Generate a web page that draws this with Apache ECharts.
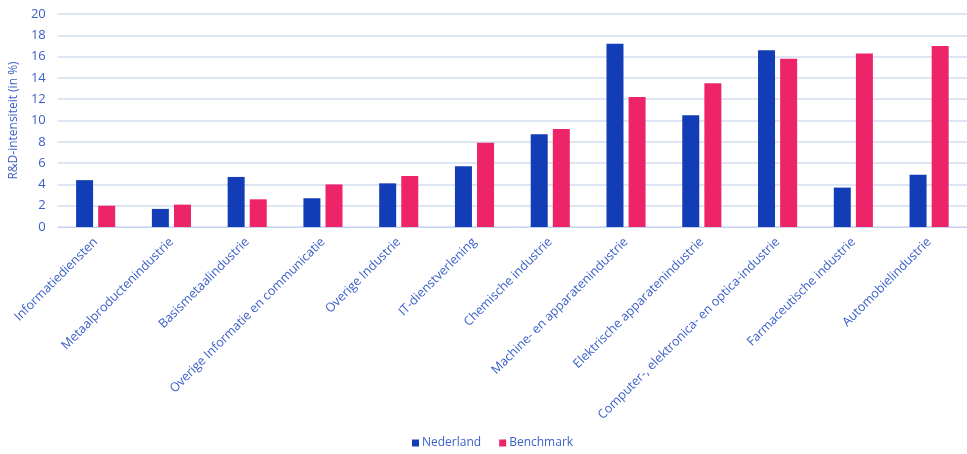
<!DOCTYPE html>
<html>
<head>
<meta charset="utf-8">
<script src="https://cdn.jsdelivr.net/npm/echarts@6/dist/echarts.min.js"></script>
<style>html,body{margin:0;padding:0;background:#fff}#c{width:967px;height:454px}</style>
</head>
<body>
<div id="c"></div>
<script>
const categories = [
  "Informatiediensten",
  "Metaalproductenindustrie",
  "Basismetaalindustrie",
  "Overige Informatie en communicatie",
  "Overige Industrie",
  "IT-dienstverlening",
  "Chemische industrie",
  "Machine- en apparatenindustrie",
  "Elektrische apparatenindustrie",
  "Computer-, elektronica- en optica-industrie",
  "Farmaceutische industrie",
  "Automobielindustrie"
];
const nederland = [4.4, 1.7, 4.7, 2.7, 4.1, 5.7, 8.7, 17.2, 10.5, 16.6, 3.7, 4.9];
const benchmark = [2.0, 2.1, 2.6, 4.0, 4.8, 7.9, 9.2, 12.2, 13.5, 15.8, 16.3, 17.0];
const yTicks = [0, 2, 4, 6, 8, 10, 12, 14, 16, 18, 20];

const textColor = '#3b5fc8';
const font = 'Open Sans';
const chart = echarts.init(document.getElementById('c'));
chart.setOption({
  animation: false,
  textStyle: { fontFamily: font },
  grid: { left: 54, right: -6, top: 14, bottom: 227 },
  legend: {
    bottom: 0, left: 407,
    itemWidth: 7, itemHeight: 7, itemGap: 18,
    icon: 'rect',
    textStyle: { color: textColor, fontSize: 12, fontFamily: font, padding: [0, 0, 0, -2] },
    data: ['Nederland', 'Benchmark']
  },
  xAxis: {
    type: 'category',
    data: categories,
    axisLine: { lineStyle: { color: '#c5d3f2' } },
    axisTick: { show: false },
    axisLabel: { rotate: 45, interval: 0, color: textColor, fontSize: 12.5, margin: 13, fontFamily: font }
  },
  yAxis: {
    type: 'value',
    min: yTicks[0], max: yTicks[yTicks.length - 1], interval: 2,
    name: 'R&D-intensiteit (in %)',
    nameLocation: 'middle',
    nameGap: 32,
    nameTextStyle: { color: textColor, fontSize: 12, fontFamily: font },
    axisLine: { show: false },
    axisTick: { show: false },
    axisLabel: { color: textColor, fontSize: 13, margin: 12, fontFamily: font },
    splitLine: { lineStyle: { color: '#d3dcf2', width: 1.5 } }
  },
  series: [
    { name: 'Nederland', type: 'bar', data: nederland, barWidth: 17, barGap: '30%',
      itemStyle: { color: '#133db6' } },
    { name: 'Benchmark', type: 'bar', data: benchmark, barWidth: 17,
      itemStyle: { color: '#ee2468' } }
  ]
});
</script>
</body>
</html>
